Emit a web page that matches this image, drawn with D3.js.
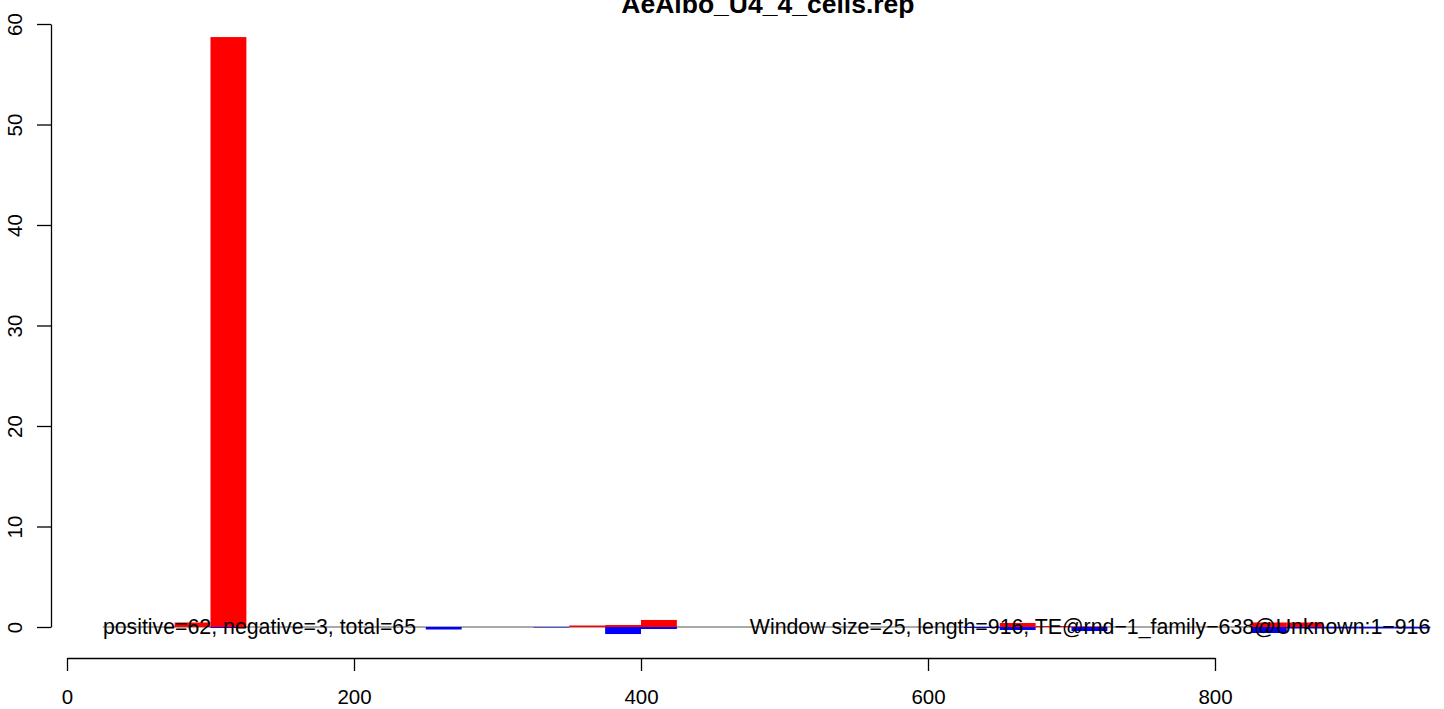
<!DOCTYPE html>
<html>
<head>
<meta charset="utf-8">
<script src="https://cdn.jsdelivr.net/npm/d3@7"></script>
<style>
  html, body { margin: 0; padding: 0; background: #fff; }
  svg { display: block; font-family: "Liberation Sans", Arial, Helvetica, sans-serif; }
</style>
</head>
<body>
<svg id="chart" width="1444" height="709"></svg>
<script>
// ---- data ----
const title = "AeAlbo_U4_4_cells.rep";
const windowStart = [25, 50, 75, 100, 125, 150, 175, 200, 225, 250, 275, 300, 325, 350, 375, 400, 425, 450, 475,
  500, 525, 550, 575, 600, 625, 650, 675, 700, 725, 750, 775, 800, 825, 850, 875, 900, 925];
const windowSize = 25;
const positive = [0, 0, 0.45, 58.7, 0, 0, 0, 0, 0, 0, 0, 0, 0, 0.15, 0.2, 0.7, 0, 0, 0,
  0, 0, 0, 0, 0, 0, 0.4, 0.1, 0.05, 0, 0, 0, 0, 0.45, 0.45, 0, 0, 0];
const negative = [0, 0, 0, -0.1, 0, 0, 0, 0, 0, -0.25, 0, 0, -0.05, 0, -0.7, -0.2, 0, 0, 0,
  0, 0, 0, 0, 0, -0.1, -0.3, 0, -0.4, 0, 0, 0, 0, -0.6, -0.15, -0.15, -0.15, -0.15];
const xTicks = [0, 200, 400, 600, 800];
const yTicks = [0, 10, 20, 30, 40, 50, 60];
const leftNote = "positive=62, negative=3, total=65";
const rightNote = "Window size=25, length=916, TE@rnd\u22121_family\u2212638@Unknown:1\u2212916";

// ---- layout ----
const svg = d3.select("#chart");
const x = d3.scaleLinear().domain([0, 800]).range([67, 1215]);
const y = d3.scaleLinear().domain([0, 60]).range([627, 24]);
const plotLeft = x(-11.1), plotRight = x(988);

// baseline (zero line under bars)
svg.append("line")
  .attr("x1", x(windowStart[0])).attr("x2", x(windowStart[windowStart.length - 1] + windowSize))
  .attr("y1", y(0)).attr("y2", y(0))
  .attr("stroke", "#555").attr("stroke-width", 1);

// positive bars
svg.append("g").selectAll("rect").data(windowStart.map((s, i) => ({s, v: positive[i]})).filter(d => d.v > 0))
  .join("rect")
  .attr("x", d => x(d.s)).attr("width", d => x(d.s + windowSize) - x(d.s))
  .attr("y", d => y(d.v)).attr("height", d => y(0) - y(d.v))
  .attr("fill", "#ff0000");

// negative bars
svg.append("g").selectAll("rect").data(windowStart.map((s, i) => ({s, v: negative[i]})).filter(d => d.v < 0))
  .join("rect")
  .attr("x", d => x(d.s)).attr("width", d => x(d.s + windowSize) - x(d.s))
  .attr("y", y(0)).attr("height", d => y(d.v) - y(0))
  .attr("fill", "#0000ff");

// annotations
svg.append("text").attr("x", x(windowStart[0])).attr("y", y(0) + 7)
  .attr("font-size", 21.3).attr("text-anchor", "start").attr("fill", "#000").text(leftNote);
svg.append("text").attr("x", x(windowStart[windowStart.length - 1] + windowSize)).attr("y", y(0) + 7)
  .attr("font-size", 21.3).attr("text-anchor", "end").attr("fill", "#000").text(rightNote);

// x axis
const gx = svg.append("g").attr("transform", "translate(0,658)")
  .call(d3.axisBottom(x).tickValues(xTicks).tickSize(13).tickSizeOuter(0).tickFormat(d3.format("d")));
gx.select(".domain").attr("stroke", "#000").attr("stroke-width", 1.3);
gx.selectAll(".tick line").attr("stroke", "#000").attr("stroke-width", 1.3);
gx.selectAll(".tick text").attr("y", 46).attr("dy", null)
  .attr("font-size", 20.5).attr("font-family", "Liberation Sans, Arial, sans-serif").attr("fill", "#000");

// y axis
const gy = svg.append("g").attr("transform", "translate(51,0)")
  .call(d3.axisLeft(y).tickValues(yTicks).tickSize(14).tickSizeOuter(0).tickFormat(d3.format("d")));
gy.select(".domain").attr("stroke", "#000").attr("stroke-width", 1.3);
gy.selectAll(".tick line").attr("stroke", "#000").attr("stroke-width", 1.3);
gy.selectAll(".tick text")
  .attr("x", null).attr("dy", null)
  .attr("transform", "translate(-29.5,0) rotate(-90)")
  .attr("text-anchor", "middle")
  .attr("font-size", 20.5).attr("font-family", "Liberation Sans, Arial, sans-serif").attr("fill", "#000");

// title (centred over the plot region, partly clipped at top as in the reference)
svg.append("text").attr("x", (plotLeft + plotRight) / 2).attr("y", 13)
  .attr("text-anchor", "middle").attr("font-size", 26.5).attr("font-weight", "bold")
  .attr("fill", "#000").text(title);
</script>
</body>
</html>
